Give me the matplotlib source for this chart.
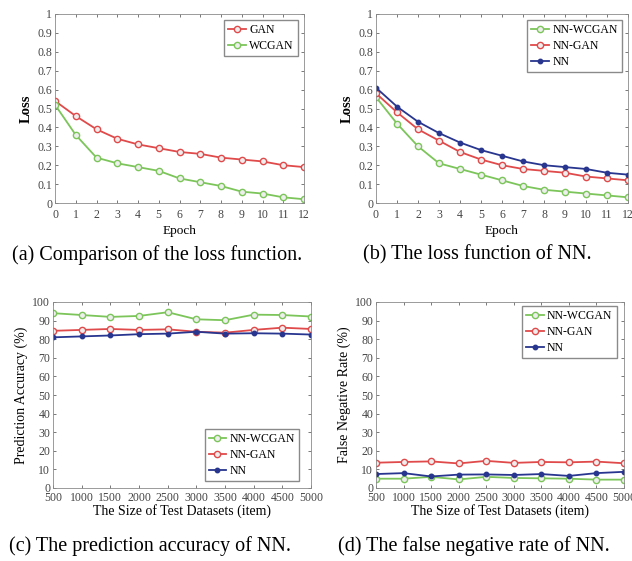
import numpy as np
import matplotlib
matplotlib.use("Agg")
import matplotlib.pyplot as plt

plt.rcParams["font.family"] = ["Liberation Serif", "DejaVu Serif"]

# (a) loss of GAN vs WCGAN
epochs = list(range(13))
gan_loss = [0.54, 0.46, 0.39, 0.34, 0.31, 0.29, 0.27, 0.26, 0.24, 0.23, 0.22, 0.20, 0.19]
wcgan_loss = [0.52, 0.36, 0.24, 0.21, 0.19, 0.17, 0.13, 0.11, 0.09, 0.06, 0.05, 0.03, 0.02]

# (b) loss of NN variants
nn_wcgan_loss = [0.56, 0.42, 0.30, 0.21, 0.18, 0.15, 0.12, 0.09, 0.07, 0.06, 0.05, 0.04, 0.03]
nn_gan_loss = [0.58, 0.48, 0.39, 0.33, 0.27, 0.23, 0.20, 0.18, 0.17, 0.16, 0.14, 0.13, 0.12]
nn_loss = [0.61, 0.51, 0.43, 0.37, 0.32, 0.28, 0.25, 0.22, 0.20, 0.19, 0.18, 0.16, 0.15]
loss_ticks = ["0", "0.1", "0.2", "0.3", "0.4", "0.5", "0.6", "0.7", "0.8", "0.9", "1"]

# (c) prediction accuracy, (d) false negative rate
sizes = [500, 1000, 1500, 2000, 2500, 3000, 3500, 4000, 4500, 5000]
acc_wcgan = [94, 93, 92, 92.5, 94.5, 90.7, 90.2, 93.2, 93, 92.2]
acc_gan = [84.5, 85, 85.5, 85, 85.3, 84, 83.5, 85, 86.2, 85.5]
acc_nn = [81, 81.5, 82, 82.7, 83, 84, 83, 83.2, 83, 82.5]
fnr_wcgan = [5, 5, 6, 4.6, 6, 5.4, 5.2, 5, 4.5, 4.5]
fnr_gan = [13.6, 14, 14.3, 13.2, 14.6, 13.5, 14, 13.8, 14.2, 13.3]
fnr_nn = [7.5, 8, 6.2, 7.2, 7.3, 7, 7.5, 6.5, 8, 8.7]

RED = "#e04a4a"
GREEN = "#7cc55a"
BLUE = "#28368f"

fig = plt.figure(figsize=(6.32, 5.61), dpi=100)
W, H = 632, 561


def add_ax(l, t, r, b):
    return fig.add_axes([l / W, 1 - b / H, (r - l) / W, (b - t) / H])


def style(ax, xpad):
    ax.tick_params(direction="in", top=True, right=True, labelsize=8.5,
                   length=2.5, width=0.5, colors="#444444", pad=2)
    ax.tick_params(axis="x", pad=xpad)
    for s in ax.spines.values():
        s.set_color("#8a8a8a")
        s.set_linewidth(0.6)


def line(ax, x, y, color, filled, label):
    ax.plot(x, y, color=color, lw=1.3, marker="o", ms=4.5 if not filled else 3.2,
            mfc=color if filled else "#eeeeee", mec=color, mew=1.0, label=label)


def legend(ax, loc, anchor):
    ax.legend(loc=loc, bbox_to_anchor=anchor, fontsize=8.5, frameon=True, fancybox=False,
              edgecolor="#8a8a8a", framealpha=1, handlelength=1.5, borderpad=0.35,
              labelspacing=0.35, handletextpad=0.3, borderaxespad=0)


# (a)
ax = add_ax(55, 14, 304, 203)
line(ax, epochs, gan_loss, RED, False, "GAN")
line(ax, epochs, wcgan_loss, GREEN, False, "WCGAN")
ax.set_xlim(0, 12)
ax.set_ylim(0, 1)
ax.set_xticks(epochs)
ax.set_yticks(np.arange(0, 1.01, 0.1))
ax.set_yticklabels(loss_ticks)
ax.set_xlabel("Epoch", fontsize=9.5, labelpad=3)
ax.set_ylabel("Loss", fontsize=10.5, fontweight="bold", labelpad=3)
style(ax, 4)
legend(ax, "upper right", (0.976, 0.97))

# (b)
ax = add_ax(376, 14, 628, 203)
line(ax, epochs, nn_wcgan_loss, GREEN, False, "NN-WCGAN")
line(ax, epochs, nn_gan_loss, RED, False, "NN-GAN")
line(ax, epochs, nn_loss, BLUE, True, "NN")
ax.set_xlim(0, 12)
ax.set_ylim(0, 1)
ax.set_xticks(epochs)
ax.set_yticks(np.arange(0, 1.01, 0.1))
ax.set_yticklabels(loss_ticks)
ax.set_xlabel("Epoch", fontsize=9.5, labelpad=3)
ax.set_ylabel("Loss", fontsize=10.5, fontweight="bold", labelpad=3)
style(ax, 4)
legend(ax, "upper right", (0.976, 0.97))

# (c)
ax = add_ax(53, 302, 311, 488)
line(ax, sizes, acc_wcgan, GREEN, False, "NN-WCGAN")
line(ax, sizes, acc_gan, RED, False, "NN-GAN")
line(ax, sizes, acc_nn, BLUE, True, "NN")
ax.set_xlim(500, 5000)
ax.set_ylim(0, 100)
ax.set_xticks(sizes)
ax.set_yticks(range(0, 101, 10))
ax.set_xlabel("The Size of Test Datasets (item)", fontsize=10, labelpad=0)
ax.set_ylabel("Prediction Accuracy (%)", fontsize=10, labelpad=3)
style(ax, 3)
legend(ax, "lower right", (0.955, 0.035))

# (d)
ax = add_ax(376, 302, 624, 488)
line(ax, sizes, fnr_wcgan, GREEN, False, "NN-WCGAN")
line(ax, sizes, fnr_gan, RED, False, "NN-GAN")
line(ax, sizes, fnr_nn, BLUE, True, "NN")
ax.set_xlim(500, 5000)
ax.set_ylim(0, 100)
ax.set_xticks(sizes)
ax.set_yticks(range(0, 101, 10))
ax.set_xlabel("The Size of Test Datasets (item)", fontsize=10, labelpad=0)
ax.set_ylabel("False Negative Rate (%)", fontsize=10, labelpad=3)
style(ax, 3)
legend(ax, "upper right", (0.97, 0.98))

# captions
fig.text(157 / W, 1 - 255 / H, "(a) Comparison of the loss function.", ha="center", va="center", fontsize=14.5)
fig.text(477 / W, 1 - 255 / H, "(b) The loss function of NN.", ha="center", va="center", fontsize=14.5)
fig.text(150 / W, 1 - 546 / H, "(c) The prediction accuracy of NN.", ha="center", va="center", fontsize=14.5)
fig.text(474 / W, 1 - 546 / H, "(d) The false negative rate of NN.", ha="center", va="center", fontsize=14.5)

fig.savefig("out.png", dpi=100)
